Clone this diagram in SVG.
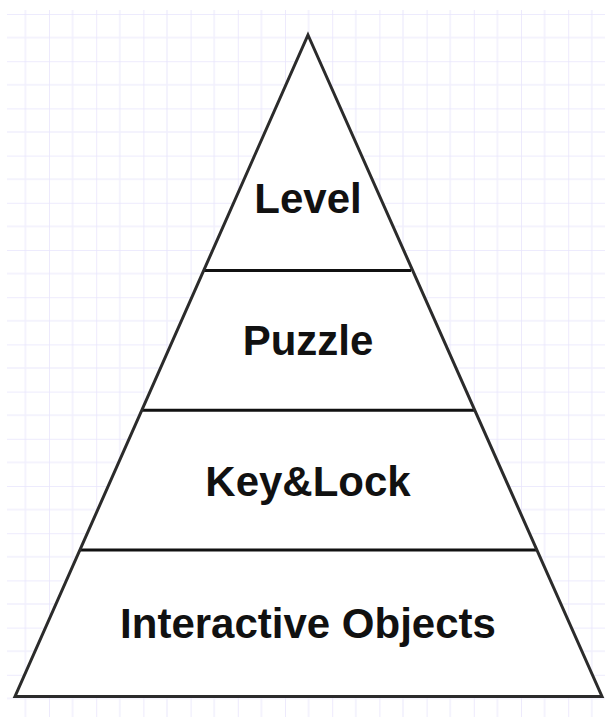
<svg xmlns="http://www.w3.org/2000/svg" width="605" height="717" viewBox="0 0 605 717">
  <style>
    .sec { fill: #ffffff; stroke: none; }
    .edge { fill: none; stroke: #2b2b2b; stroke-width: 3; stroke-linejoin: miter; }
    .sep { stroke: #111111; stroke-width: 3; }
    .lbl { font-family: "Liberation Sans", Arial, sans-serif; font-weight: bold; font-size: 42px; fill: #111111; text-anchor: middle; }
  </style>
  <defs>
    <pattern id="grid" patternUnits="userSpaceOnUse" x="1.8" y="14" width="47.2" height="47.2">
      <line x1="23.6" y1="0" x2="23.6" y2="47.2" stroke="#f1effd" stroke-width="1.5"/>
      <line x1="0" y1="23.6" x2="47.2" y2="23.6" stroke="#f1effd" stroke-width="1.5"/>
      <line x1="0" y1="0" x2="0" y2="47.2" stroke="#e7e4fc" stroke-width="1.5"/>
      <line x1="0" y1="0" x2="47.2" y2="0" stroke="#e7e4fc" stroke-width="1.5"/>
    </pattern>
  </defs>
  <rect x="0" y="0" width="605" height="717" fill="#ffffff"/>
  <rect x="7" y="10" width="598" height="707" fill="url(#grid)"/>

  <g id="level">
    <polygon class="sec" points="308,35 203.7,270.5 412.7,270.5"/>
    <text class="lbl" x="308" y="213">Level</text>
  </g>
  <g id="puzzle">
    <polygon class="sec" points="203.7,270.5 412.7,270.5 474.8,410.3 141.8,410.3"/>
    <text class="lbl" x="308" y="355">Puzzle</text>
  </g>
  <g id="keylock">
    <polygon class="sec" points="141.8,410.3 474.8,410.3 536.9,550 79.9,550"/>
    <text class="lbl" x="308" y="496">Key&amp;Lock</text>
  </g>
  <g id="interactive">
    <polygon class="sec" points="79.9,550 536.9,550 602,696.5 15,696.5"/>
    <text class="lbl" x="308" y="638">Interactive Objects</text>
  </g>

  <g id="connectors">
    <line class="sep" x1="204" y1="270.5" x2="411" y2="270.5"/>
    <line class="sep" x1="142" y1="410.3" x2="474" y2="410.3"/>
    <line class="sep" x1="80" y1="550" x2="536" y2="550"/>
    <polygon class="edge" points="308,35 602,696.5 15,696.5"/>
  </g>
</svg>
